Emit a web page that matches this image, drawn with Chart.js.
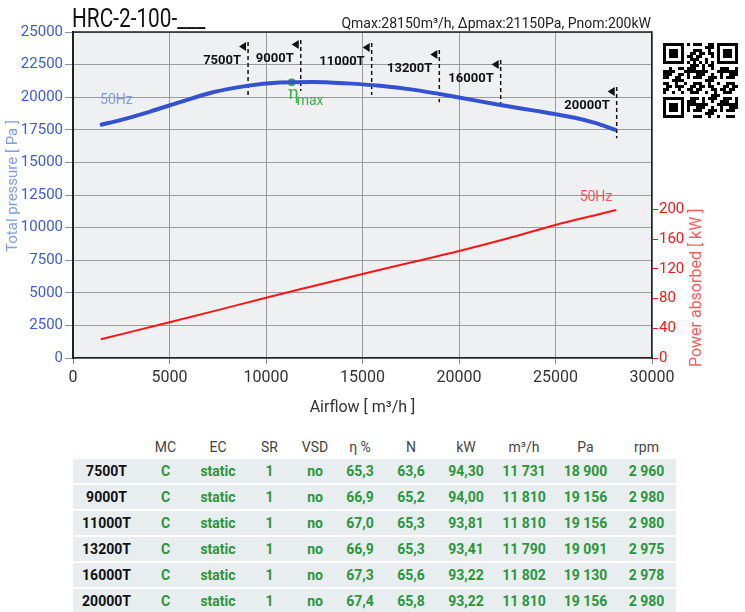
<!DOCTYPE html>
<html>
<head>
<meta charset="utf-8">
<script src="https://cdn.jsdelivr.net/npm/chart.js@4.4.1/dist/chart.umd.min.js"></script>
<style>
  body { margin: 0; background: #fff; font-family: Roboto, sans-serif; }
  #wrap { position: relative; width: 745px; height: 612px; overflow: hidden; }
  #fanChart { position: absolute; left: 0; top: 0; }
  #perf { position: absolute; left: 73px; top: 437px; border-collapse: separate; border-spacing: 0; table-layout: fixed; width: 603px; }
  #perf th { font-weight: 400; font-size: 14px; color: #444; height: 20px; padding: 0; text-align: center; }
  #perf td { font-weight: 700; font-size: 14px; color: #2a963c; background: #e8edf0; height: 24px; padding: 0; text-align: center; border-top: 2.4px solid #fff; }
  #perf td.name { color: #111; }
</style>
</head>
<body>
<div id="wrap">
  <canvas id="fanChart" width="745" height="425"></canvas>
  <table id="perf"></table>
</div>
<script>
// Curva de presión total (m3/h, Pa)
const flowP = [1400, 2500, 4000, 5500, 7250, 9000, 10700, 12400, 14200, 15900, 17600, 20000, 22000, 24000, 25000, 26000, 27000, 28150];
const pressure = [17870, 18260, 18900, 19600, 20380, 20870, 21120, 21165, 21060, 20880, 20580, 19980, 19440, 18950, 18700, 18420, 18050, 17480];

// Potencia absorbida (m3/h, kW)
const flowW = [1440, 5000, 7500, 10000, 12300, 15000, 17500, 20000, 22500, 25000, 27000, 28150];
const power = [25.2, 48.1, 64.5, 81.2, 96.0, 113.1, 128.5, 144.1, 161.0, 179.1, 192.0, 199.3];

// Marcadores de modelos
const markerNames = ["7500T", "9000T", "11000T", "13200T", "16000T", "20000T"];
const markerFlow = [9070, 11800, 15475, 18980, 22160, 28170];
const markerTop = [24230, 24390, 24160, 23620, 22850, 20780];
const markerBottom = [20040, 20475, 20170, 19610, 19350, 16850];

// Punto de máximo rendimiento
const etaMax = { x: 11330, y: 21140 };

// Ticks
const flowTicks = [0, 5000, 10000, 15000, 20000, 25000, 30000];
const pressureTicks = [0, 2500, 5000, 7500, 10000, 12500, 15000, 17500, 20000, 22500, 25000];
const powerTicks = [0, 40, 80, 120, 160, 200];

// Tabla
const tableHead = ["", "MC", "EC", "SR", "VSD", "η %", "N", "kW", "m³/h", "Pa", "rpm"];
const colWidths = [67, 51, 54, 49, 42, 48, 54, 56, 60, 63, 59];
const colMC = ["C", "C", "C", "C", "C", "C"];
const colEC = ["static", "static", "static", "static", "static", "static"];
const colSR = ["1", "1", "1", "1", "1", "1"];
const colVSD = ["no", "no", "no", "no", "no", "no"];
const colEta = ["65,3", "66,9", "67,0", "66,9", "67,3", "67,4"];
const colN = ["63,6", "65,2", "65,3", "65,3", "65,6", "65,8"];
const colKW = ["94,30", "94,00", "93,81", "93,41", "93,22", "93,22"];
const colFlow = ["11 731", "11 810", "11 810", "11 790", "11 802", "11 810"];
const colPa = ["18 900", "19 156", "19 156", "19 091", "19 130", "19 156"];
const colRpm = ["2 960", "2 980", "2 980", "2 975", "2 978", "2 980"];

const blue = "#3452cf";
const red = "#ff1414";
const green = "#3fae49";

Chart.defaults.font.family = "Roboto, sans-serif";

const datasets = [
  {
    data: flowP.map((x, i) => ({ x: x, y: pressure[i] })),
    yAxisID: "y",
    borderColor: blue,
    borderWidth: 4,
    cubicInterpolationMode: "monotone",
    pointRadius: 0
  },
  {
    data: flowW.map((x, i) => ({ x: x, y: power[i] })),
    yAxisID: "y1",
    borderColor: red,
    borderWidth: 2,
    cubicInterpolationMode: "monotone",
    pointRadius: 0
  }
];

markerFlow.forEach((f, i) => {
  datasets.push({
    data: [{ x: f, y: markerTop[i] }, { x: f, y: markerBottom[i] }],
    yAxisID: "y",
    borderColor: "#111",
    borderWidth: 1.5,
    borderDash: [4, 3],
    pointRadius: 0
  });
});

datasets.push({
  data: [etaMax],
  yAxisID: "y",
  showLine: false,
  pointRadius: 5,
  pointBackgroundColor: green,
  pointBorderColor: "#fff",
  pointBorderWidth: 2
});

// Dibujos extra: fondo, etiquetas, títulos, QR
const extras = {
  id: "extras",
  beforeDraw(chart) {
    const { ctx, chartArea: a } = chart;
    ctx.save();
    ctx.fillStyle = "#eff0f2";
    ctx.fillRect(a.left, a.top, a.right - a.left, a.bottom - a.top);
    ctx.restore();
  },
  afterDatasetsDraw(chart) {
    const { ctx, scales } = chart;
    const xs = scales.x, ys = scales.y, yw = scales.y1;
    ctx.save();

    // Marcadores
    markerFlow.forEach((f, i) => {
      const x = xs.getPixelForValue(f);
      const top = ys.getPixelForValue(markerTop[i]);
      ctx.fillStyle = "#111";
      ctx.beginPath();
      ctx.moveTo(x - 2, top);
      ctx.lineTo(x - 2, top + 9);
      ctx.lineTo(x - 9, top + 4.5);
      ctx.closePath();
      ctx.fill();
      ctx.font = "bold 13px Roboto";
      ctx.textAlign = "right";
      ctx.textBaseline = "middle";
      ctx.fillText(markerNames[i], x - 7, top + 19);
    });

    // eta max
    const ex = xs.getPixelForValue(etaMax.x);
    const ey = ys.getPixelForValue(etaMax.y);
    ctx.fillStyle = green;
    ctx.textAlign = "left";
    ctx.textBaseline = "alphabetic";
    ctx.font = "18px 'DejaVu Serif'";
    ctx.fillText("η", ex - 4, ey + 17);
    ctx.font = "14px Roboto";
    ctx.fillText("max", ex + 5, ey + 23);

    // 50Hz
    const bx = xs.getPixelForValue(flowP[0]);
    const by = ys.getPixelForValue(pressure[0]);
    ctx.fillStyle = "#7b9be8";
    ctx.font = "14px Roboto";
    ctx.textBaseline = "middle";
    ctx.fillText("50Hz", bx, by - 24);
    const rx = xs.getPixelForValue(flowW[flowW.length - 1]);
    const ry = yw.getPixelForValue(power[power.length - 1]);
    ctx.fillStyle = "#ff5050";
    ctx.textAlign = "right";
    ctx.fillText("50Hz", rx - 4, ry - 13);
    ctx.restore();
  },
  afterDraw(chart) {
    const { ctx, chartArea: a, scales } = chart;
    ctx.save();
    // borde superior
    ctx.strokeStyle = "#222";
    ctx.lineWidth = 1.5;
    ctx.beginPath();
    ctx.moveTo(a.left, a.top);
    ctx.lineTo(a.right, a.top);
    ctx.stroke();

    // título
    ctx.fillStyle = "#111";
    ctx.textAlign = "left";
    ctx.textBaseline = "alphabetic";
    ctx.save();
    ctx.translate(72, 27);
    ctx.scale(0.8, 1);
    ctx.font = "26px Roboto";
    ctx.fillText("HRC-2-100-___", 0, 0);
    ctx.restore();

    ctx.font = "14px Roboto";
    ctx.textAlign = "right";
    ctx.fillStyle = "#222";
    ctx.fillText("Qmax:28150m³/h, Δpmax:21150Pa, Pnom:200kW", 651, 28);

    // título eje izquierdo
    ctx.save();
    ctx.translate(13, 186);
    ctx.rotate(-Math.PI / 2);
    ctx.fillStyle = "#7f9ee9";
    ctx.font = "15px Roboto";
    ctx.textAlign = "center";
    ctx.textBaseline = "middle";
    ctx.fillText("Total pressure [ Pa ]", 0, 0);
    ctx.restore();

    // título eje derecho
    const y0 = scales.y1.getPixelForValue(0);
    const y200 = scales.y1.getPixelForValue(200);
    ctx.save();
    ctx.translate(697, (y0 + y200) / 2 + 4);
    ctx.rotate(-Math.PI / 2);
    ctx.fillStyle = "#ff5a5a";
    ctx.font = "16px Roboto";
    ctx.textAlign = "center";
    ctx.textBaseline = "middle";
    ctx.fillText("Power absorbed [ kW ]", 0, 0);
    ctx.restore();

    // código QR (decorativo)
    const n = 25, m = 3, qx = 663, qy = 43;
    ctx.fillStyle = "#fff";
    ctx.fillRect(qx - 2, qy - 2, n * m + 4, n * m + 4);
    ctx.fillStyle = "#000";
    const finder = (r, c) => {
      ctx.fillRect(qx + c * m, qy + r * m, 7 * m, 7 * m);
      ctx.fillStyle = "#fff";
      ctx.fillRect(qx + (c + 1) * m, qy + (r + 1) * m, 5 * m, 5 * m);
      ctx.fillStyle = "#000";
      ctx.fillRect(qx + (c + 2) * m, qy + (r + 2) * m, 3 * m, 3 * m);
    };
    for (let r = 0; r < n; r++) {
      for (let c = 0; c < n; c++) {
        const inFinder = (r < 8 && c < 8) || (r < 8 && c > n - 9) || (r > n - 9 && c < 8);
        if (inFinder) continue;
        let on;
        if (r === 6) on = c % 2 === 0;
        else if (c === 6) on = r % 2 === 0;
        else on = ((r * r * 7 + c * c * 13 + r * c * 5 + r * 3 + c) % 11) < 5;
        if (on) ctx.fillRect(qx + c * m, qy + r * m, m, m);
      }
    }
    finder(0, 0);
    finder(0, n - 7);
    finder(n - 7, 0);
    ctx.restore();
  }
};

const plain = (v) => String(v);

const chart = new Chart(document.getElementById("fanChart"), {
  type: "line",
  data: { datasets: datasets },
  options: {
    responsive: false,
    animation: false,
    devicePixelRatio: 1,
    layout: { padding: { top: 32, left: 0, right: 0, bottom: 0 } },
    plugins: { legend: { display: false }, tooltip: { enabled: false } },
    scales: {
      x: {
        type: "linear",
        min: 0,
        max: 30000,
        afterBuildTicks: (axis) => { axis.ticks = flowTicks.map(v => ({ value: v })); },
        afterFit: (axis) => { axis.height = 67; },
        ticks: { color: "#333", font: { size: 16 }, padding: 4, maxRotation: 0, callback: plain },
        title: { display: true, text: "Airflow [ m³/h ]", color: "#333", font: { size: 16 }, padding: { top: 4, bottom: 7 } },
        grid: { color: "#9b9b9b", tickColor: "#888", tickLength: 6 },
        border: { color: "#222", width: 1.5 }
      },
      y: {
        position: "left",
        min: 0,
        max: 25000,
        afterBuildTicks: (axis) => { axis.ticks = pressureTicks.map(v => ({ value: v })); },
        afterFit: (axis) => { axis.width = 73; },
        ticks: { color: "#3b5bdb", font: { size: 15 }, padding: 2, callback: plain },
        grid: { color: "#9b9b9b", tickColor: "#8a8fa8", tickLength: 8 },
        border: { color: "#222", width: 2 }
      },
      y1: {
        position: "right",
        min: 0,
        max: 439,
        afterBuildTicks: (axis) => { axis.ticks = powerTicks.map(v => ({ value: v })); },
        afterFit: (axis) => { axis.width = 93; },
        ticks: { color: red, font: { size: 15 }, padding: 1, callback: plain },
        grid: { drawOnChartArea: false, tickColor: red, tickLength: 6 },
        border: { color: "#222", width: 1.5 }
      }
    }
  },
  plugins: [extras]
});

// Tabla de rendimiento
const table = document.getElementById("perf");
let html = "<colgroup>" + colWidths.map(w => '<col style="width:' + w + 'px">').join("") + "</colgroup>";
html += "<tr>" + tableHead.map(h => "<th>" + h + "</th>").join("") + "</tr>";
markerNames.forEach((name, i) => {
  const cells = [colMC[i], colEC[i], colSR[i], colVSD[i], colEta[i], colN[i], colKW[i], colFlow[i], colPa[i], colRpm[i]];
  html += '<tr><td class="name">' + name + "</td>" + cells.map(c => "<td>" + c + "</td>").join("") + "</tr>";
});
table.innerHTML = html;
</script>
</body>
</html>
